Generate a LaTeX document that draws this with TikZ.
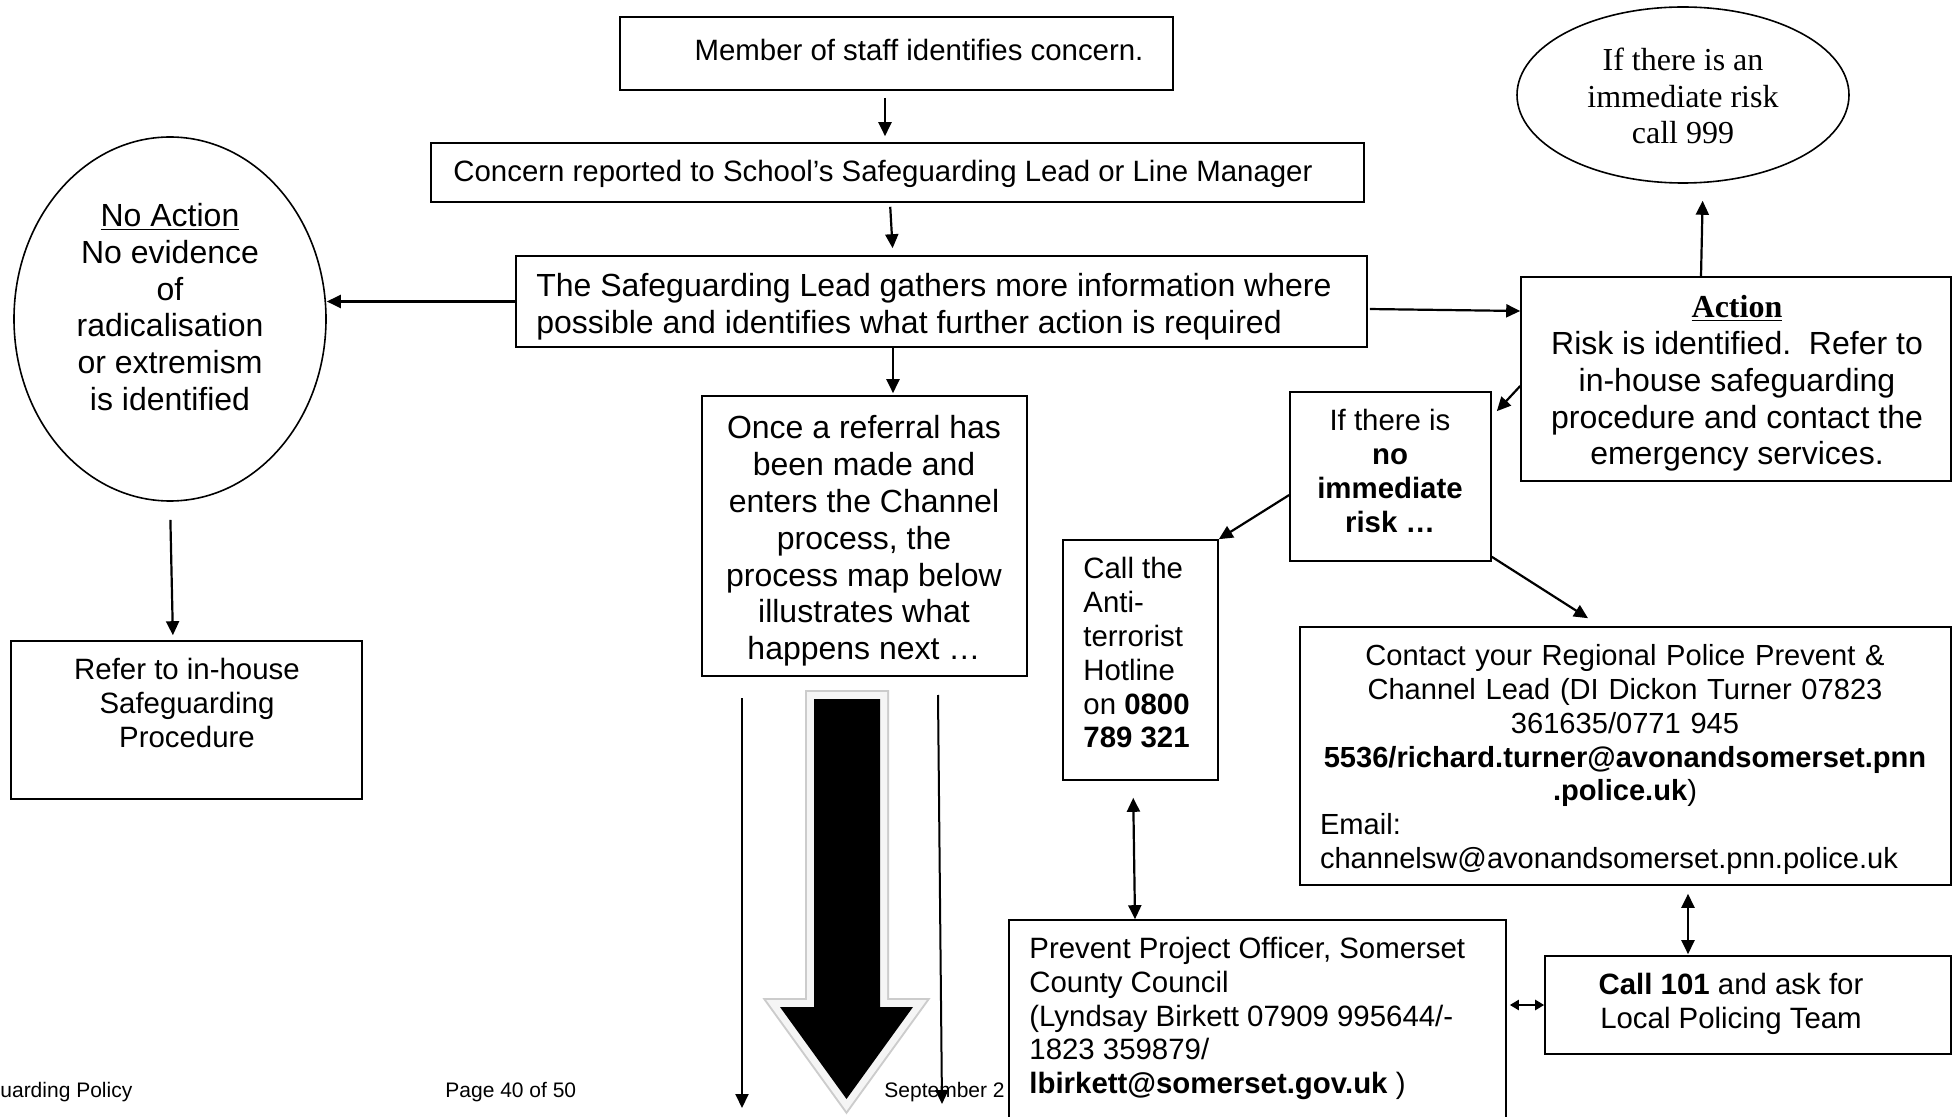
\documentclass[tikz,border=0pt]{standalone}
\usepackage{fontspec}
\setmainfont{Liberation Sans}
\newfontfamily\tnr{Liberation Serif}
\usetikzlibrary{arrows.meta,shapes.geometric}
\newcommand\fsA{\fontsize{14.7pt}{16.9pt}\selectfont}
\newcommand\fsB{\fontsize{16pt}{18.4pt}\selectfont}
\newcommand\fsC{\fontsize{10.5pt}{12pt}\selectfont}
\begin{document}
\begin{tikzpicture}[x=0.5pt,y=-0.5pt,
  box/.style={draw, line width=0.8pt, fill=white, inner sep=0pt, rectangle},
  oval/.style={draw, line width=0.8pt, fill=white, inner sep=0pt, ellipse},
  txt/.style={inner sep=0pt, align=center},
  arr/.style={line width=1.1pt, -{Triangle[length=7pt,width=6.5pt]}},
  darr/.style={line width=1.1pt, {Triangle[length=7pt,width=6.5pt]}-{Triangle[length=7pt,width=6.5pt]}},
  sarr/.style={line width=1.1pt, {Triangle[length=4.5pt,width=5pt]}-{Triangle[length=4.5pt,width=5pt]}},
  thinarr/.style={line width=1pt, -{Triangle[length=7pt,width=6.5pt]}},
]
\useasboundingbox (0,0) rectangle (1955,1117);
\clip (0,0) rectangle (1955,1117);
\fill[white] (0,0) rectangle (1955,1117);

% footer
\node[txt,font=\fsC,anchor=west] (f1) at (0,1092) {uarding Policy};
\node[txt,font=\fsC,anchor=west] (f2) at (445,1092) {Page 40 of 50};
\node[txt,font=\fsC,anchor=west] (f3) at (884,1092) {September 2};

% boxes
\node[box, minimum width=276.5pt, minimum height=36.5pt] (b1) at (896.5,53.5) {};
\node[box, minimum width=466.5pt, minimum height=29.5pt] (b2) at (897.5,172.5) {};
\node[box, minimum width=425.5pt, minimum height=45.5pt] (b3) at (941.5,301.5) {};
\node[oval, minimum width=156pt, minimum height=182pt] (eL) at (170,319) {};
\node[box, minimum width=175.5pt, minimum height=79pt] (ref) at (186.5,720) {};
\node[box, minimum width=162.5pt, minimum height=140pt] (once) at (864.5,536) {};
\node[box, minimum width=215pt, minimum height=102pt] (act) at (1736,379) {};
\node[oval, minimum width=166pt, minimum height=88pt] (eR) at (1683,95) {};
\node[box, minimum width=100.5pt, minimum height=84.5pt] (nr) at (1390.5,476.5) {};
\node[box, minimum width=77.5pt, minimum height=120pt] (anti) at (1140.5,660) {};
\node[box, minimum width=325.5pt, minimum height=129pt] (con) at (1625.5,756) {};
\node[box, minimum width=248.5pt, minimum height=110pt] (prev) at (1257.5,1030) {};
\node[box, minimum width=203pt, minimum height=49pt] (c101) at (1748,1005) {};

% texts
\node[txt,font=\fsA] (t1) at (919,50) {Member of staff identifies concern.};
\node[txt,font=\fsA,anchor=west] (t2) at (453,173.5) {Concern reported to School’s Safeguarding Lead or Line Manager};
\node[txt,font=\fsB,anchor=west,align=left] (t3) at (536,307) {The Safeguarding Lead gathers more information where\\possible and identifies what further action is required};
\node[txt,font=\fsB] (tL) at (170,307) {\underline{No Action}\\No evidence\\of\\radicalisation\\or extremism\\is identified};
\node[txt,font=\fsA] (tR) at (187,703) {Refer to in-house\\Safeguarding\\Procedure};
\node[txt,font=\fsB] (tO) at (864,541) {Once a referral has\\been made and\\enters the Channel\\process, the\\process map below\\illustrates what\\happens next …};
\node[txt,font=\fsB] (tA) at (1737,383.5) {{\tnr\bfseries\underline{Action}}\\Risk is identified.\ \ Refer to\\in-house safeguarding\\procedure and contact the\\emergency services.};
\node[txt,font={\tnr\fsB}] (tE) at (1683,96) {If there is an\\immediate risk\\call 999};
\node[txt,font=\fsA] (tN) at (1390,471) {If there is\\\textbf{no}\\\textbf{immediate}\\\textbf{risk …}};
\node[txt,font=\fsA,align=left,anchor=west] (tT) at (1083,653) {Call the\\Anti-\\terrorist\\Hotline\\on \textbf{0800}\\\textbf{789 321}};
\node[txt,font={\fontsize{14.55pt}{16.9pt}\selectfont},text width=305.5pt] (tC) at (1625,759.5) {Contact your Regional Police Prevent \&\\Channel Lead (DI Dickon Turner 07823\\361635/0771 945\\\textbf{5536/richard.turner@avonandsomerset.pnn}\\\textbf{.police.uk})\\\makebox[305pt][l]{Email:}\\\makebox[305pt][l]{channelsw@avonandsomerset.pnn.police.uk}};
\node[txt,font=\fsA,align=left,anchor=west] (tP) at (1029,1018.5) {Prevent Project Officer, Somerset\\County Council\\(Lyndsay Birkett 07909 995644/-\\1823 359879/\\\textbf{lbirkett@somerset.gov.uk} )};
\node[txt,font=\fsA] (t101) at (1731,1003.5) {\textbf{Call 101} and ask for\\Local Policing Team};

% connectors
\draw[arr, shorten <=3.5pt, shorten >=3pt] ([xshift=-5.75pt]b1.south) -- ([xshift=-6.25pt]b2.north);
\draw[arr, shorten <=2pt, shorten >=3.5pt] ([xshift=-3.75pt]b2.south) -- ([xshift=-24.25pt]b3.north);
\draw[arr] (b3.west) -- (b3.west -| eL.east);
\draw[arr, shorten <=9pt, shorten >=2.5pt] (eL.south) -- ([xshift=-6.75pt]ref.north);
\draw[arr, shorten >=1pt] ([xshift=-24.25pt]b3.south) -- ([xshift=14.25pt]once.north);
\draw[arr, shorten <=1pt] ([yshift=-3.75pt]b3.east) -- ([yshift=34pt]act.west);
\draw[arr, shorten >=8.5pt] ([xshift=-17.5pt]act.north) -- ([xshift=10pt]eR.south);
\draw[arr] ([yshift=-3.5pt]act.west) -- ([xshift=2.5pt,yshift=-10pt]nr.north east);
\draw[arr] ([yshift=-9.25pt]nr.west) -- (anti.north east);
\draw[arr] ([yshift=2.5pt]nr.south east) -- ([xshift=-18.75pt,yshift=4pt]con.north);
\draw[darr, shorten <=8.5pt] ([xshift=-3.75pt]anti.south) -- ([xshift=-61.25pt]prev.north);
\draw[darr, shorten <=4pt, shorten >=0.5pt] ([xshift=31.25pt]con.south) -- ([xshift=-30pt]c101.north);
\draw[sarr, shorten <=1.5pt] (c101.west -| prev.east) -- (c101.west);

% thin arrows beside the big arrow
\coordinate (lA) at (742,698); \coordinate (lB) at (742,1108);
\coordinate (rA) at (938,695); \coordinate (rB) at (942,1104);
\draw[thinarr] (lA) -- (lB);
\draw[thinarr] (rA) -- (rB);

% big block arrow
\draw[gray!40, line width=9pt, line join=miter] (814,699) -- (880,699) -- (880,1007) -- (913,1007) -- (846.5,1099) -- (780,1007) -- (814,1007) -- cycle;
\draw[gray!8, line width=7pt, line join=miter] (814,699) -- (880,699) -- (880,1007) -- (913,1007) -- (846.5,1099) -- (780,1007) -- (814,1007) -- cycle;
\fill[black] (814,699) -- (880,699) -- (880,1007) -- (913,1007) -- (846.5,1099) -- (780,1007) -- (814,1007) -- cycle;
\end{tikzpicture}
\end{document}
